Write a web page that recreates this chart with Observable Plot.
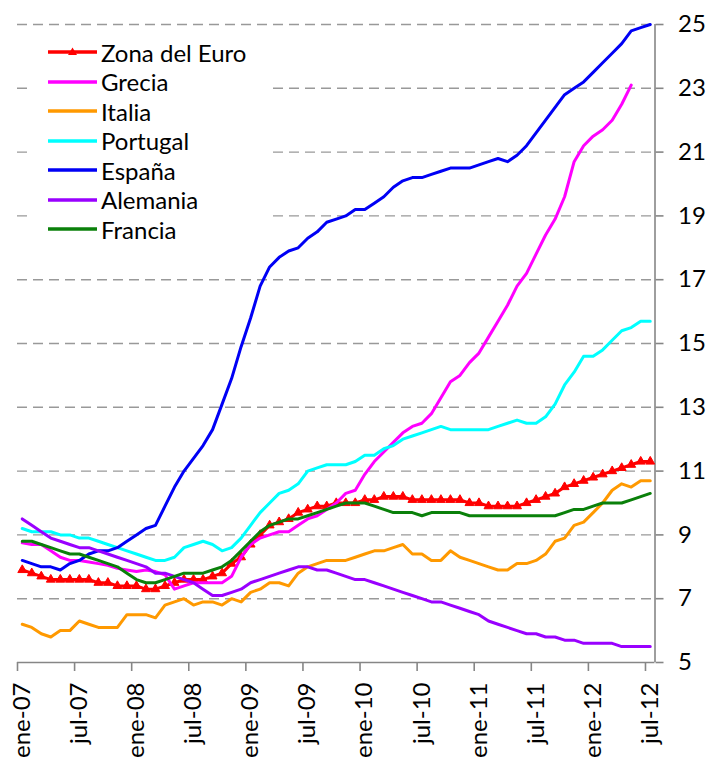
<!DOCTYPE html>
<html>
<head>
<meta charset="utf-8">
<script src="https://cdn.jsdelivr.net/npm/d3@7"></script>
<script src="https://cdn.jsdelivr.net/npm/@observablehq/plot@0.6"></script>
<style>
  body { margin: 0; background: #fff; }
  #wrap { position: relative; width: 711px; height: 758px; font-family: Lato, sans-serif; }
  #legend { position: absolute; left: 28px; top: 30px; width: 242px; height: 218px; background: #fff; }
  .row { position: absolute; left: 20px; height: 30px; display: flex; align-items: center; font-size: 24px; color: #000; white-space: nowrap; }
  .row svg { margin-right: 3px; }
</style>
</head>
<body>
<div id="wrap"><div id="legend"></div></div>
<script>
// X tick labels (every 6 months), monthly data ene-07 .. jul-12 (67 months)
const xTickLabels = ["ene-07","jul-07","ene-08","jul-08","ene-09","jul-09","ene-10","jul-10","ene-11","jul-11","ene-12","jul-12"];
const yTicks = [5,7,9,11,13,15,17,19,21,23,25];

const seriesNames = ["Zona del Euro","Grecia","Italia","Portugal","España","Alemania","Francia"];
const seriesColors = ["#ff0000","#ff00ff","#ff9900","#00ffff","#0000f5","#9900ff","#0a800a"];

const zonaEuro = [7.9,7.8,7.7,7.6,7.6,7.6,7.6,7.6,7.5,7.5,7.4,7.4,7.4,7.3,7.3,7.4,7.5,7.6,7.6,7.6,7.7,7.8,8.1,8.3,
  8.7,9.0,9.3,9.4,9.5,9.7,9.8,9.9,9.9,10.0,10.0,10.0,10.1,10.1,10.2,10.2,10.2,10.1,10.1,10.1,10.1,10.1,10.1,10.0,
  10.0,9.9,9.9,9.9,9.9,10.0,10.1,10.2,10.3,10.5,10.6,10.7,10.8,10.9,11.0,11.1,11.2,11.3,11.3];
const grecia = [8.75,8.7,8.7,8.5,8.3,8.2,8.2,8.15,8.1,8.05,7.95,7.9,7.85,7.9,7.85,7.75,7.3,7.4,7.5,7.5,7.5,7.5,7.7,8.3,
  8.7,8.9,9.0,9.1,9.1,9.3,9.5,9.6,9.8,10.0,10.3,10.4,10.9,11.3,11.6,11.9,12.2,12.4,12.5,12.8,13.3,13.8,14.0,14.4,
  14.7,15.2,15.7,16.2,16.8,17.2,17.8,18.4,18.9,19.6,20.7,21.2,21.5,21.7,22.0,22.5,23.1,null,null];
const italia = [6.2,6.1,5.9,5.8,6.0,6.0,6.3,6.2,6.1,6.1,6.1,6.5,6.5,6.5,6.4,6.8,6.9,7.0,6.8,6.9,6.9,6.8,7.0,6.9,
  7.2,7.3,7.5,7.5,7.4,7.8,8.0,8.1,8.2,8.2,8.2,8.3,8.4,8.5,8.5,8.6,8.7,8.4,8.4,8.2,8.2,8.5,8.3,8.2,
  8.1,8.0,7.9,7.9,8.1,8.1,8.2,8.4,8.8,8.9,9.3,9.4,9.7,10.0,10.4,10.6,10.5,10.7,10.7];
const portugal = [9.2,9.1,9.1,9.1,9.0,9.0,8.9,8.9,8.8,8.7,8.6,8.5,8.4,8.3,8.2,8.2,8.3,8.6,8.7,8.8,8.7,8.5,8.6,8.9,
  9.3,9.7,10.0,10.3,10.4,10.6,11.0,11.1,11.2,11.2,11.2,11.3,11.5,11.5,11.7,11.8,12.0,12.1,12.2,12.3,12.4,12.3,12.3,12.3,
  12.3,12.3,12.4,12.5,12.6,12.5,12.5,12.7,13.1,13.7,14.1,14.6,14.6,14.8,15.1,15.4,15.5,15.7,15.7];
const espana = [8.2,8.1,8.0,8.0,7.9,8.1,8.2,8.4,8.5,8.5,8.6,8.8,9.0,9.2,9.3,9.9,10.5,11.0,11.4,11.8,12.3,13.1,13.9,14.9,
  15.8,16.8,17.4,17.7,17.9,18.0,18.3,18.5,18.8,18.9,19.0,19.2,19.2,19.4,19.6,19.9,20.1,20.2,20.2,20.3,20.4,20.5,20.5,20.5,
  20.6,20.7,20.8,20.7,20.9,21.2,21.6,22.0,22.4,22.8,23.0,23.2,23.5,23.8,24.1,24.4,24.8,24.9,25.0];
const alemania = [9.5,9.3,9.1,8.9,8.8,8.7,8.6,8.6,8.5,8.4,8.3,8.2,8.1,8.0,7.8,7.8,7.7,7.6,7.5,7.3,7.1,7.1,7.2,7.3,
  7.5,7.6,7.7,7.8,7.9,8.0,8.0,7.9,7.9,7.8,7.7,7.6,7.6,7.5,7.4,7.3,7.2,7.1,7.0,6.9,6.9,6.8,6.7,6.6,
  6.5,6.3,6.2,6.1,6.0,5.9,5.9,5.8,5.8,5.7,5.7,5.6,5.6,5.6,5.6,5.5,5.5,5.5,5.5];
const francia = [8.8,8.8,8.7,8.6,8.5,8.4,8.4,8.3,8.2,8.1,8.0,7.8,7.6,7.5,7.5,7.6,7.7,7.8,7.8,7.8,7.9,8.0,8.2,8.5,
  8.8,9.1,9.3,9.4,9.5,9.5,9.6,9.7,9.8,9.9,10.0,10.0,10.0,9.9,9.8,9.7,9.7,9.7,9.6,9.7,9.7,9.7,9.7,9.6,
  9.6,9.6,9.6,9.6,9.6,9.6,9.6,9.6,9.6,9.7,9.8,9.8,9.9,10.0,10.0,10.0,10.1,10.2,10.3];

const seriesValues = [zonaEuro, grecia, italia, portugal, espana, alemania, francia];

// tidy rows: x = month index centred in its category (k + 0.5)
const rows = [];
seriesValues.forEach((vals, s) => vals.forEach((v, k) => rows.push({serie: seriesNames[s], x: k + 0.5, y: v})));

const colorScale = {domain: seriesNames, range: seriesColors};
const tickPos = xTickLabels.map((_, j) => j * 6);
const labelPos = xTickLabels.map((_, j) => j * 6 + 0.5);

const chart = Plot.plot({
  width: 711,
  height: 758,
  marginLeft: 17,
  marginRight: 56.5,
  marginTop: 24,
  marginBottom: 96,
  style: {fontFamily: "Lato, sans-serif", fontSize: "24px", background: "#fff", overflow: "visible"},
  x: {type: "linear", domain: [0, 67]},
  y: {domain: [5, 25]},
  color: colorScale,
  marks: [
    Plot.gridY(yTicks.filter(d => d > 5), {stroke: "#999999", strokeOpacity: 1, strokeWidth: 1.4, strokeDasharray: "10,6"}),
    Plot.ruleY([5], {stroke: "#868686", strokeWidth: 1.6}),
    Plot.ruleX([67], {stroke: "#868686", strokeWidth: 1.6}),
    Plot.axisY({anchor: "right", ticks: yTicks, tickSize: 8, tickPadding: 15, stroke: "#868686", strokeWidth: 1.6, fill: "#000", label: null}),
    Plot.axisX({ticks: tickPos, tickSize: 9, tickFormat: () => "", stroke: "#868686", strokeWidth: 1.6, label: null}),
    Plot.axisX({ticks: labelPos, tickSize: 0, tickPadding: 20, tickRotate: -90, fill: "#000",
      tickFormat: d => xTickLabels[Math.round((d - 0.5) / 6)], label: null}),
    Plot.line(rows.filter(r => r.serie === "Zona del Euro"),
      {x: "x", y: "y", stroke: "serie", strokeWidth: 3, strokeLinejoin: "round", strokeLinecap: "round"}),
    Plot.dot(rows.filter(r => r.serie === "Zona del Euro"),
      {x: "x", y: "y", symbol: "triangle", r: 3.3, fill: "#ff0000", stroke: "#ff0000", strokeWidth: 1}),
    ...seriesNames.slice(1).map(name => Plot.line(rows.filter(r => r.serie === name && r.y != null),
      {x: "x", y: "y", stroke: "serie", strokeWidth: 3, strokeLinejoin: "round", strokeLinecap: "round"}))
  ]
});

document.getElementById("wrap").prepend(chart);

// legend
const legend = document.getElementById("legend");
seriesNames.forEach((name, i) => {
  const row = document.createElement("div");
  row.className = "row";
  row.style.top = (7.25 + i * 29.5) + "px";
  const ns = "http://www.w3.org/2000/svg";
  const sw = document.createElementNS(ns, "svg");
  sw.setAttribute("width", "50"); sw.setAttribute("height", "30");
  const ln = document.createElementNS(ns, "line");
  ln.setAttribute("x1", "0"); ln.setAttribute("x2", "49"); ln.setAttribute("y1", "15"); ln.setAttribute("y2", "15");
  ln.setAttribute("stroke", seriesColors[i]); ln.setAttribute("stroke-width", "3.5");
  sw.appendChild(ln);
  if (i === 0) {
    const tri = document.createElementNS(ns, "path");
    tri.setAttribute("d", "M24.5,10.5 L29,18 L20,18 Z");
    tri.setAttribute("fill", seriesColors[0]);
    sw.appendChild(tri);
  }
  row.appendChild(sw);
  const t = document.createElement("span");
  t.textContent = name;
  row.appendChild(t);
  legend.appendChild(row);
});
</script>
</body>
</html>
